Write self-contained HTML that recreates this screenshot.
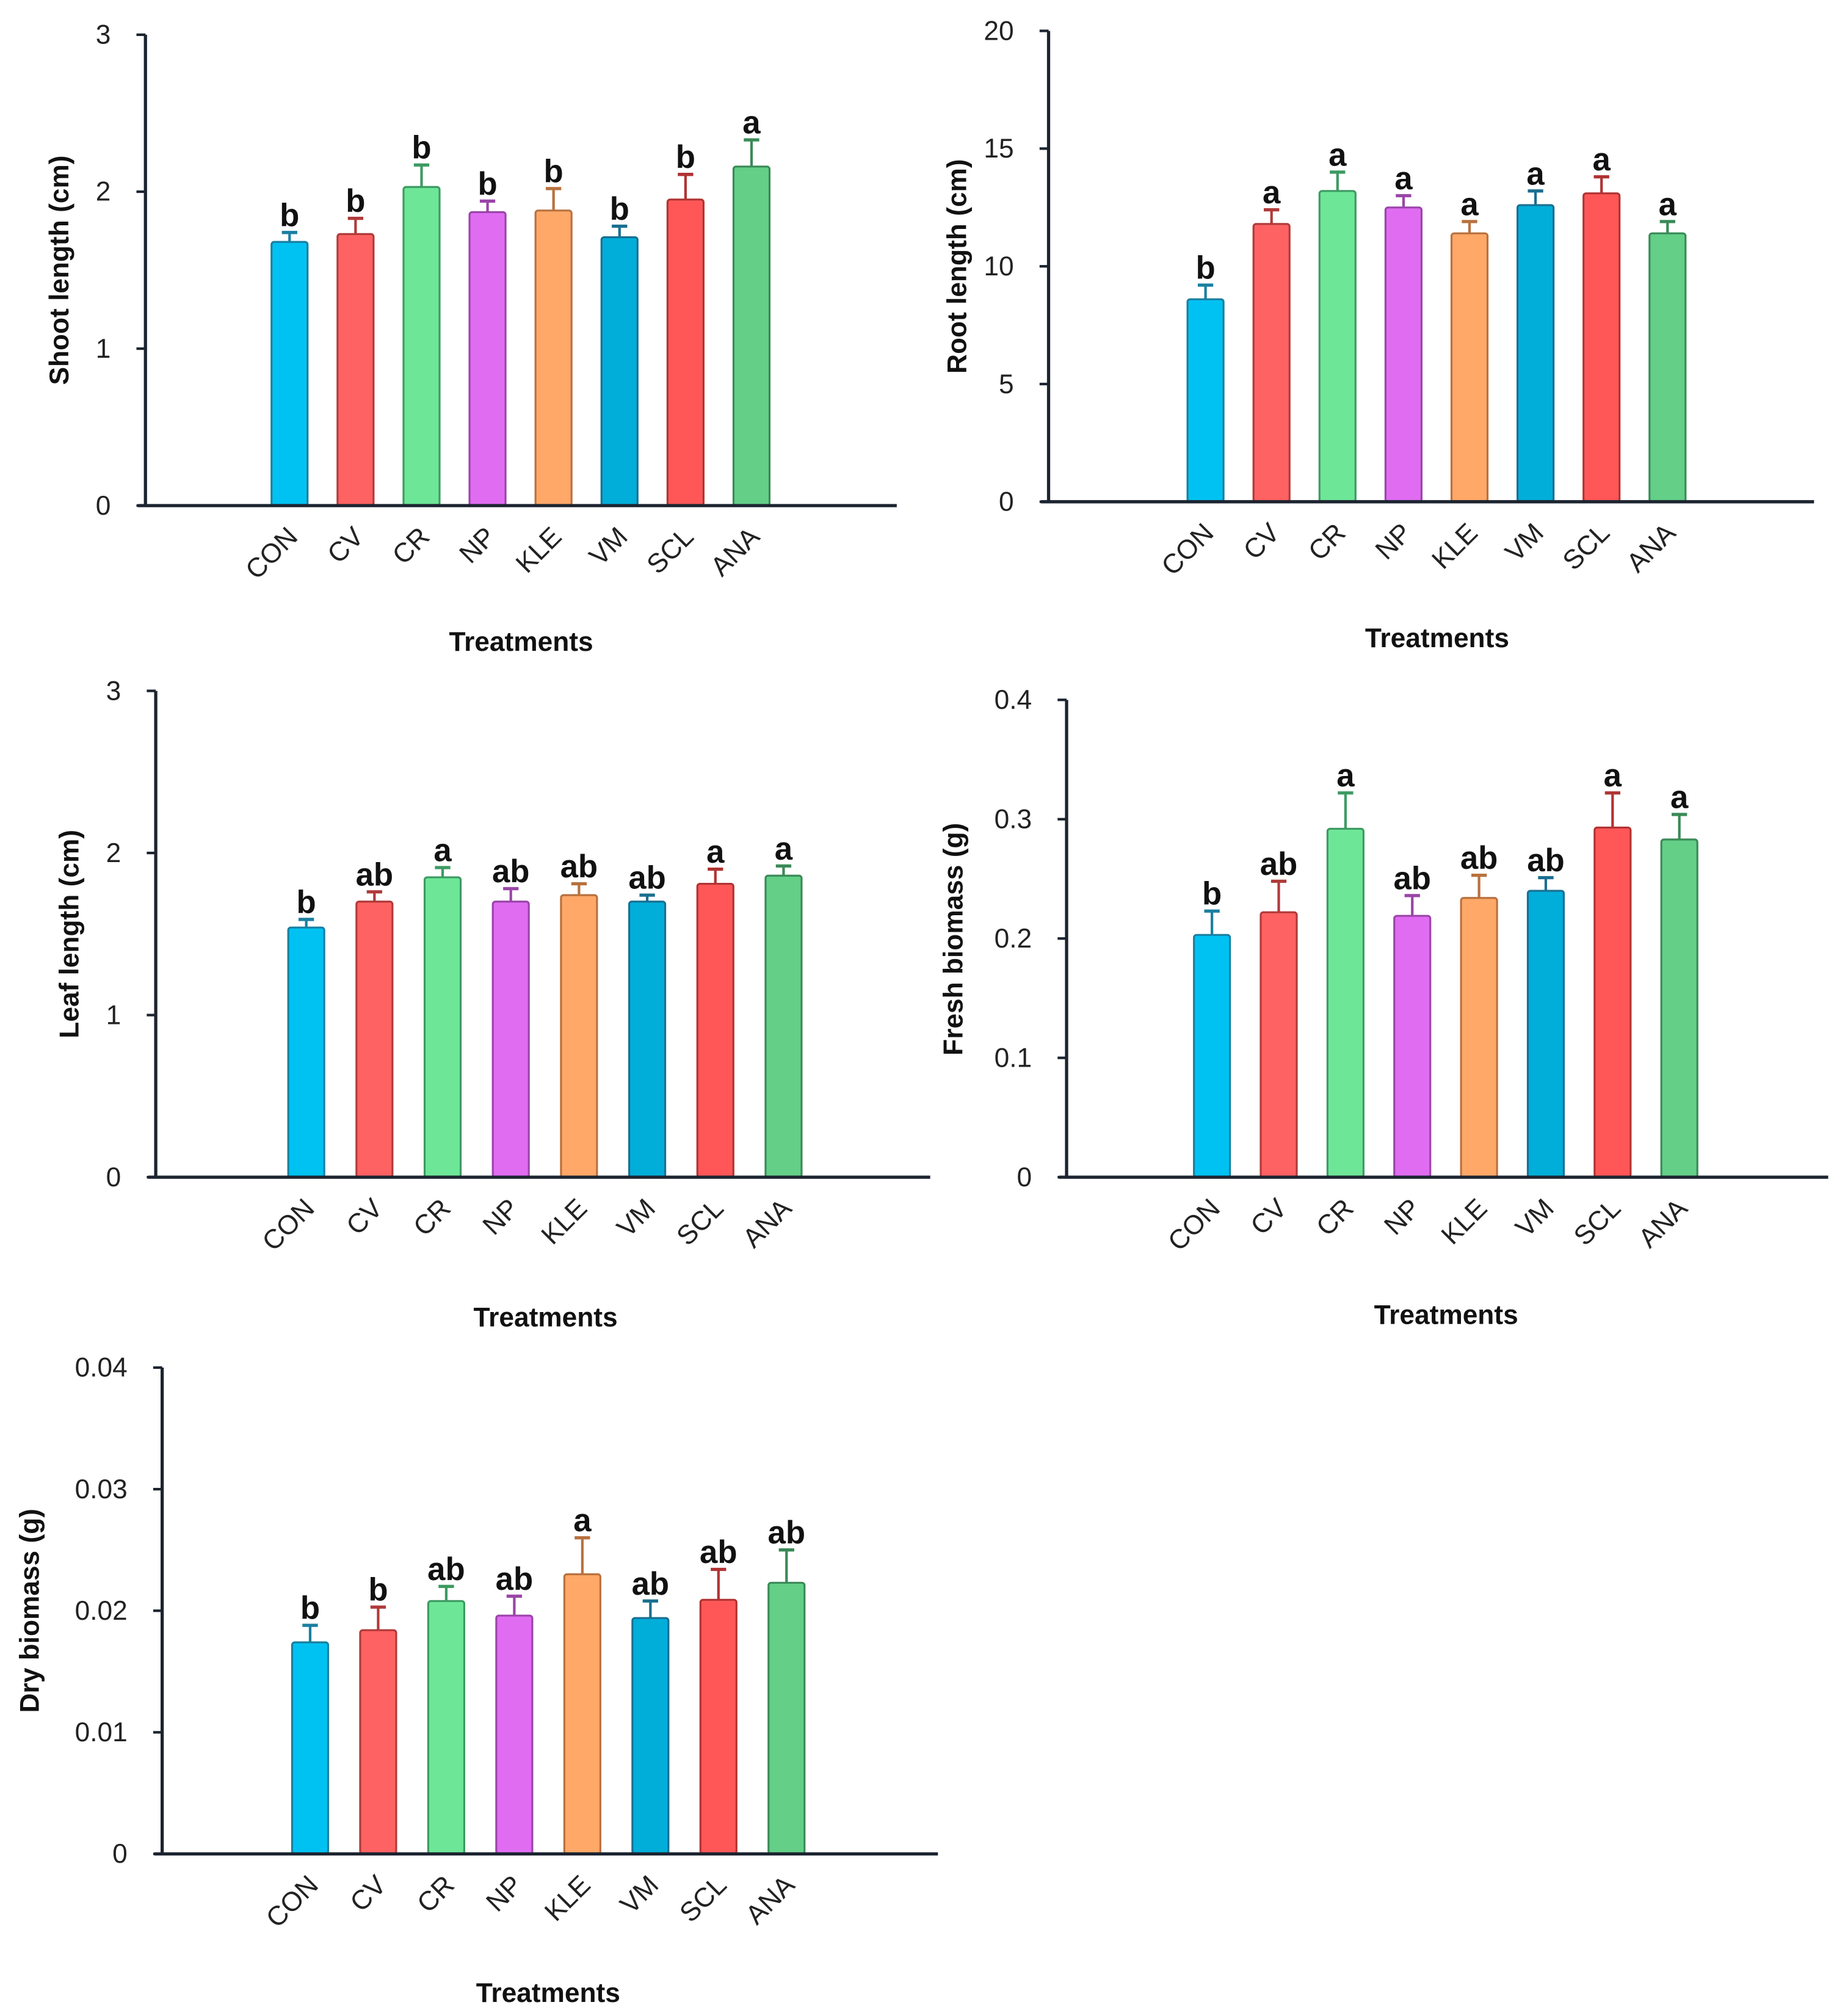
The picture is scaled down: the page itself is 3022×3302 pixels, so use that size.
<!DOCTYPE html>
<html><head><meta charset="utf-8"><style>
html,body{margin:0;padding:0;background:#fff;}
svg{display:block;font-family:"Liberation Sans",Arial,sans-serif;}
</style></head><body>
<svg id="fig" width="3022" height="3302" viewBox="0 0 1434 1567" xmlns="http://www.w3.org/2000/svg"></svg>
<script>
const categories = ["CON","CV","CR","NP","KLE","VM","SCL","ANA"];
const shootVals = [1.68,1.73,2.03,1.87,1.88,1.71,1.95,2.16];
const shootErr = [0.06,0.10,0.14,0.07,0.14,0.07,0.16,0.17];
const shootLetters = ["b","b","b","b","b","b","b","a"];
const rootVals = [8.6,11.8,13.2,12.5,11.4,12.6,13.1,11.4];
const rootErr = [0.6,0.6,0.8,0.5,0.5,0.6,0.7,0.5];
const rootLetters = ["b","a","a","a","a","a","a","a"];
const leafVals = [1.54,1.70,1.85,1.70,1.74,1.70,1.81,1.86];
const leafErr = [0.05,0.06,0.06,0.08,0.07,0.04,0.09,0.06];
const leafLetters = ["b","ab","a","ab","ab","ab","a","a"];
const freshVals = [0.203,0.222,0.292,0.219,0.234,0.240,0.293,0.283];
const freshErr = [0.020,0.026,0.030,0.017,0.019,0.011,0.029,0.021];
const freshLetters = ["b","ab","a","ab","ab","ab","a","a"];
const dryVals = [0.0174,0.0184,0.0208,0.0196,0.0230,0.0194,0.0209,0.0223];
const dryErr = [0.0014,0.0019,0.0012,0.0016,0.0030,0.0014,0.0025,0.0027];
const dryLetters = ["b","b","ab","ab","a","ab","ab","ab"];
const shootTicks = ["0","1","2","3"];
const rootTicks = ["0","5","10","15","20"];
const leafTicks = ["0","1","2","3"];
const freshTicks = ["0","0.1","0.2","0.3","0.4"];
const dryTicks = ["0","0.01","0.02","0.03","0.04"];

const fills = ["#00c2f2","#ff6262","#6ee698","#e06cf2","#ffa868","#00aed9","#ff5757","#63cf87"];
const strokes = ["#1a7fa0","#b03a3a","#3d9a62","#9a45a8","#b8713f","#1a6f91","#b03333","#3a8a57"];
const NS="http://www.w3.org/2000/svg";
const svg=document.getElementById('fig');
function mk(tag,attrs,parent){const e=document.createElementNS(NS,tag);for(const k in attrs)e.setAttribute(k,attrs[k]);(parent||svg).appendChild(e);return e;}

function chart(cfg){
  const g=mk('g',{});
  
  
  const max=parseFloat(cfg.ticks[cfg.ticks.length-1]);
  const y=v=>cfg.y0-(v/max)*(cfg.y0-cfg.yTop);
  const x=i=>cfg.x0+i*cfg.step;
  const bw=28;
  categories.forEach((c,i)=>{
    const v=cfg.vals[i], e=cfg.errs[i], cx=x(i);
    const eb=mk('g',{},g);
    
    
    mk('line',{x1:cx,x2:cx,y1:y(v),y2:y(v+e),stroke:strokes[i],'stroke-width':2},eb);
    mk('line',{x1:cx-6,x2:cx+6,y1:y(v+e),y2:y(v+e),stroke:strokes[i],'stroke-width':2.5},eb);
    const r=mk('rect',{x:cx-bw/2,y:y(v),width:bw,height:cfg.y0-y(v),rx:2,fill:fills[i],stroke:strokes[i],'stroke-width':1.5},g);
    
    
    const t=mk('text',{x:cx,y:y(v+e)-5,'text-anchor':'middle','font-size':25,'font-weight':'bold',fill:'#111'},g);
    t.textContent=cfg.letters[i];
    
    
    const lx=cx-3, ly=cfg.y0+15;
    const xl=mk('text',{x:lx,y:ly,'text-anchor':'end','font-size':21,fill:'#222',transform:`rotate(-45 ${lx} ${ly})`,'dominant-baseline':'hanging'},g);
    xl.textContent=c;
    
    
  });
  const ya=mk('line',{x1:cfg.x0axis,x2:cfg.x0axis,y1:cfg.yTop,y2:cfg.y0+1,stroke:'#1c2430','stroke-width':2.5},g);
  
  
  const xa=mk('line',{x1:cfg.x0axis-6,x2:cfg.xEnd,y1:cfg.y0,y2:cfg.y0,stroke:'#1c2430','stroke-width':2.5},g);
  
  
  cfg.ticks.forEach(tk=>{
    const ty=y(parseFloat(tk));
    mk('line',{x1:cfg.x0axis-7,x2:cfg.x0axis,y1:ty,y2:ty,stroke:'#1c2430','stroke-width':2},g);
    const t=mk('text',{x:cfg.x0axis-27,y:ty+7,'text-anchor':'end','font-size':21,fill:'#222'},g);
    t.textContent=tk;
    
    
  });
  const yt=mk('text',{x:cfg.ylx,y:cfg.yly,'text-anchor':'middle','font-size':21,'font-weight':'bold',fill:'#111',transform:`rotate(-90 ${cfg.ylx} ${cfg.yly})`},g);
  yt.textContent=cfg.ytitle;
  
  
  const xt=mk('text',{x:cfg.xtx,y:cfg.xty,'text-anchor':'middle','font-size':21,'font-weight':'bold',fill:'#111'},g);
  xt.textContent='Treatments';
  
  
}

chart({name:'shoot-length-chart',vals:shootVals,errs:shootErr,letters:shootLetters,ticks:shootTicks,x0axis:113,y0:393,yTop:27,xEnd:697,x0:225,step:51.3,ylx:53,yly:210,ytitle:'Shoot length (cm)',xtx:405,xty:506});
chart({name:'root-length-chart',vals:rootVals,errs:rootErr,letters:rootLetters,ticks:rootTicks,x0axis:815,y0:390,yTop:24,xEnd:1410,x0:937,step:51.3,ylx:751,yly:207,ytitle:'Root length (cm)',xtx:1117,xty:503});
chart({name:'leaf-length-chart',vals:leafVals,errs:leafErr,letters:leafLetters,ticks:leafTicks,x0axis:121,y0:915,yTop:537,xEnd:723,x0:238,step:53,ylx:61,yly:726,ytitle:'Leaf length (cm)',xtx:424,xty:1031});
chart({name:'fresh-biomass-chart',vals:freshVals,errs:freshErr,letters:freshLetters,ticks:freshTicks,x0axis:829,y0:915,yTop:544,xEnd:1421,x0:942,step:51.9,ylx:748,yly:730,ytitle:'Fresh biomass (g)',xtx:1124,xty:1029});
chart({name:'dry-biomass-chart',vals:dryVals,errs:dryErr,letters:dryLetters,ticks:dryTicks,x0axis:126,y0:1441,yTop:1063,xEnd:729,x0:241,step:52.9,ylx:30,yly:1252,ytitle:'Dry biomass (g)',xtx:426,xty:1556});
</script>
</body></html>
